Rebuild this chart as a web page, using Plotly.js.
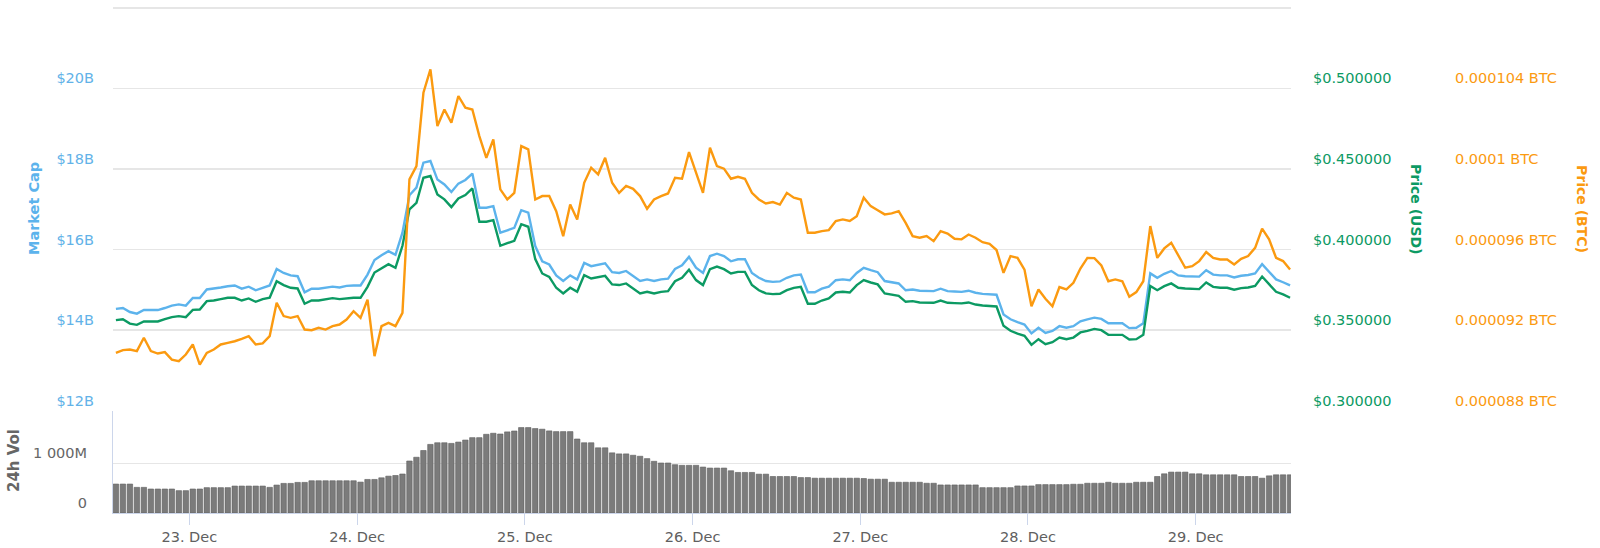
<!DOCTYPE html>
<html>
<head>
<meta charset="utf-8">
<script src="https://cdn.plot.ly/plotly-3.0.1.min.js"></script>
<style>
  html, body { margin: 0; padding: 0; background: #ffffff; }
  #chart { width: 1600px; height: 548px; }
</style>
</head>
<body>
<div id="chart"></div>
<script>
// ---- time axis: hourly samples from 22 Dec 2018 13:30 (UTC) ----
const startTime = Date.UTC(2018, 11, 22, 13, 30);
const stepMs = 3600000;

// ---- Market cap, billions of USD ----
const marketCapB = [
  14.53,14.55,14.45,14.41,14.50,14.50,14.50,14.55,14.61,14.64,
  14.61,14.80,14.80,15.01,15.03,15.06,15.09,15.11,15.03,15.08,
  14.99,15.06,15.11,15.52,15.42,15.36,15.34,14.94,15.03,15.03,
  15.06,15.08,15.06,15.10,15.11,15.11,15.38,15.74,15.86,15.96,
  15.87,16.42,17.35,17.54,18.16,18.20,17.74,17.62,17.43,17.64,
  17.73,17.89,17.04,17.04,17.08,16.42,16.48,16.54,16.98,16.92,
  16.09,15.71,15.63,15.36,15.22,15.36,15.26,15.67,15.59,15.63,
  15.66,15.44,15.42,15.47,15.34,15.22,15.26,15.22,15.26,15.28,
  15.52,15.61,15.82,15.55,15.42,15.84,15.90,15.84,15.71,15.76,
  15.76,15.42,15.30,15.22,15.20,15.21,15.30,15.36,15.38,14.94,
  14.94,15.03,15.08,15.24,15.26,15.24,15.42,15.55,15.49,15.44,
  15.22,15.19,15.16,14.99,15.01,14.98,14.97,14.97,15.03,14.97,
  14.96,14.95,14.98,14.93,14.90,14.89,14.88,14.39,14.27,14.20,
  14.14,13.92,14.06,13.93,13.98,14.10,14.06,14.10,14.22,14.27,
  14.31,14.28,14.17,14.17,14.17,14.05,14.06,14.17,15.41,15.30,
  15.40,15.47,15.36,15.34,15.33,15.33,15.49,15.38,15.36,15.36,
  15.31,15.35,15.37,15.41,15.64,15.44,15.26,15.19,15.11
];

// ---- Price, USD ----
const priceUsd = [
  0.3562,0.3568,0.3541,0.3533,0.3554,0.3554,0.3554,0.3568,0.3581,0.3587,
  0.3581,0.3626,0.3628,0.3680,0.3684,0.3693,0.3701,0.3701,0.3684,0.3697,
  0.3676,0.3693,0.3701,0.3804,0.3780,0.3763,0.3759,0.3664,0.3684,0.3684,
  0.3693,0.3699,0.3693,0.3699,0.3701,0.3701,0.3769,0.3858,0.3883,0.3910,
  0.3887,0.4024,0.4250,0.4291,0.4446,0.4457,0.4343,0.4312,0.4264,0.4318,
  0.4339,0.4380,0.4173,0.4173,0.4183,0.4024,0.4040,0.4055,0.4158,0.4142,
  0.3941,0.3852,0.3831,0.3763,0.3728,0.3763,0.3738,0.3842,0.3821,0.3831,
  0.3837,0.3784,0.3780,0.3790,0.3759,0.3728,0.3738,0.3728,0.3738,0.3742,
  0.3804,0.3825,0.3875,0.3811,0.3780,0.3879,0.3895,0.3879,0.3852,0.3862,
  0.3862,0.3780,0.3748,0.3728,0.3724,0.3726,0.3748,0.3763,0.3769,0.3664,
  0.3664,0.3684,0.3697,0.3734,0.3738,0.3734,0.3780,0.3811,0.3796,0.3784,
  0.3728,0.3722,0.3713,0.3676,0.3680,0.3672,0.3670,0.3670,0.3684,0.3670,
  0.3668,0.3666,0.3672,0.3659,0.3653,0.3649,0.3647,0.3527,0.3496,0.3479,
  0.3465,0.3409,0.3444,0.3413,0.3425,0.3454,0.3444,0.3454,0.3486,0.3496,
  0.3508,0.3500,0.3471,0.3471,0.3471,0.3442,0.3444,0.3471,0.3775,0.3748,
  0.3773,0.3790,0.3763,0.3759,0.3755,0.3755,0.3796,0.3769,0.3763,0.3763,
  0.3751,0.3761,0.3765,0.3775,0.3833,0.3784,0.3738,0.3722,0.3701
];

// ---- Price, BTC ----
const priceBtc = [
  90.87e-6,91.01e-6,91.04e-6,90.96e-6,91.62e-6,90.96e-6,90.84e-6,90.91e-6,90.54e-6,90.46e-6,
  90.79e-6,91.29e-6,90.29e-6,90.87e-6,91.04e-6,91.29e-6,91.37e-6,91.45e-6,91.57e-6,91.70e-6,
  91.29e-6,91.34e-6,91.70e-6,93.36e-6,92.70e-6,92.61e-6,92.70e-6,92.03e-6,92.00e-6,92.12e-6,
  92.03e-6,92.20e-6,92.28e-6,92.53e-6,92.94e-6,92.61e-6,93.52e-6,90.71e-6,92.20e-6,92.36e-6,
  92.20e-6,92.86e-6,99.49e-6,100.15e-6,103.79e-6,104.95e-6,102.14e-6,102.96e-6,102.30e-6,103.63e-6,
  103.05e-6,102.96e-6,101.64e-6,100.56e-6,101.47e-6,98.99e-6,98.49e-6,98.82e-6,101.14e-6,100.98e-6,
  98.49e-6,98.66e-6,98.66e-6,97.91e-6,96.67e-6,98.24e-6,97.50e-6,99.32e-6,100.07e-6,99.74e-6,
  100.56e-6,99.32e-6,98.82e-6,99.16e-6,99.02e-6,98.66e-6,98.03e-6,98.49e-6,98.66e-6,98.79e-6,
  99.57e-6,99.52e-6,100.84e-6,99.82e-6,98.82e-6,101.06e-6,100.15e-6,100.02e-6,99.52e-6,99.62e-6,
  99.52e-6,98.82e-6,98.49e-6,98.29e-6,98.36e-6,98.24e-6,98.82e-6,98.58e-6,98.49e-6,96.84e-6,
  96.84e-6,96.92e-6,96.97e-6,97.42e-6,97.50e-6,97.42e-6,97.66e-6,98.58e-6,98.16e-6,97.96e-6,
  97.75e-6,97.80e-6,97.91e-6,97.33e-6,96.67e-6,96.59e-6,96.67e-6,96.42e-6,96.92e-6,96.80e-6,
  96.54e-6,96.51e-6,96.75e-6,96.59e-6,96.37e-6,96.29e-6,95.98e-6,94.85e-6,95.68e-6,95.59e-6,
  95.01e-6,93.19e-6,94.02e-6,93.56e-6,93.19e-6,94.14e-6,94.02e-6,94.35e-6,95.06e-6,95.59e-6,
  95.58e-6,95.21e-6,94.43e-6,94.52e-6,94.43e-6,93.66e-6,93.89e-6,94.43e-6,97.17e-6,95.59e-6,
  96.06e-6,96.34e-6,95.68e-6,95.10e-6,95.18e-6,95.43e-6,95.88e-6,95.59e-6,95.51e-6,95.51e-6,
  95.26e-6,95.54e-6,95.68e-6,96.09e-6,97.04e-6,96.51e-6,95.59e-6,95.43e-6,95.01e-6
];

// ---- 24h volume, millions of USD ----
const volumeM = [
  579,579,579,513,513,480,480,480,480,447,
  447,480,480,507,507,507,507,539,539,539,
  539,539,513,559,592,592,612,612,645,645,
  645,645,645,645,645,618,671,671,704,737,
  750,780,1040,1115,1250,1372,1405,1405,1392,1419,
  1459,1507,1507,1574,1595,1580,1622,1640,1709,1709,
  1689,1676,1642,1628,1628,1628,1480,1405,1405,1304,
  1304,1203,1182,1182,1155,1135,1088,1034,1000,1000,
  966,953,953,953,919,899,899,899,845,811,
  811,811,777,777,730,730,730,730,709,709,
  696,696,696,696,696,696,696,690,676,676,
  676,615,615,615,615,615,595,595,561,561,
  561,561,561,561,507,507,507,507,507,541,
  541,541,568,568,568,568,568,575,575,595,
  595,595,615,595,595,595,615,615,615,730,
  784,818,818,818,784,784,764,764,764,764,
  764,730,730,730,696,743,764,764,764
];

// ---- tick labels ----
const capTickVals = [12, 14, 16, 18, 20, 22];
const capTickText = ['$12B', '$14B', '$16B', '$18B', '$20B', ''];
const usdTickVals = [0.30, 0.35, 0.40, 0.45, 0.50];
const usdTickText = ['$0.300000', '$0.350000', '$0.400000', '$0.450000', '$0.500000'];
const btcTickVals = [88e-6, 92e-6, 96e-6, 100e-6, 104e-6];
const btcTickText = ['0.000088 BTC', '0.000092 BTC', '0.000096 BTC', '0.0001 BTC', '0.000104 BTC'];
const volTickVals = [0, 1000];
const volTickText = ['0', '1 000M'];

const times = marketCapB.map((_, i) => startTime + i * stepMs);

const BLUE = '#5cb3ec';
const GREEN = '#0c9a63';
const ORANGE = '#fb9a10';
const FONT = 'DejaVu Sans, Verdana, sans-serif';

const W = 1600, H = 548;
const px = v => v / W;
const py = v => 1 - v / H;

const traces = [
  { type: 'scatter', mode: 'lines', x: times, y: marketCapB, yaxis: 'y', xaxis: 'x',
    line: { color: BLUE, width: 2.4 }, hoverinfo: 'skip' },
  { type: 'scatter', mode: 'lines', x: times, y: priceUsd, yaxis: 'y2', xaxis: 'x',
    line: { color: GREEN, width: 2.4 }, hoverinfo: 'skip' },
  { type: 'scatter', mode: 'lines', x: times, y: priceBtc, yaxis: 'y3', xaxis: 'x',
    line: { color: ORANGE, width: 2.4 }, hoverinfo: 'skip' },
  { type: 'bar', x: times, y: volumeM, yaxis: 'y4', xaxis: 'x',
    marker: { color: '#7b7b7b', line: { color: '#5e5e5e', width: 0.6 } }, hoverinfo: 'skip' }
];

const tickFont = (c) => ({ family: FONT, size: 14.5, color: c });

const layout = {
  width: W, height: H,
  margin: { l: 0, r: 0, t: 0, b: 0, pad: 0 },
  paper_bgcolor: '#ffffff', plot_bgcolor: '#ffffff',
  showlegend: false,
  bargap: 0.22,
  font: { family: FONT, size: 14.5, color: '#666666' },
  xaxis: {
    type: 'date', domain: [px(113), px(1291)], anchor: 'y4',
    range: [Date.UTC(2018, 11, 22, 13, 5), Date.UTC(2018, 11, 29, 13, 38)],
    tick0: Date.UTC(2018, 11, 23), dtick: 86400000, tickformat: '%d. %b',
    ticks: 'outside', ticklen: 11, tickwidth: 1, tickcolor: '#ccd6eb',
    showline: true, linecolor: '#ccd6eb', linewidth: 1,
    showgrid: false, zeroline: false, fixedrange: true,
    tickfont: tickFont('#606060')
  },
  yaxis: {
    domain: [py(410.7), py(6)], anchor: 'x', side: 'left',
    range: [12, 22.05], tickvals: capTickVals, ticktext: capTickText,
    ticks: '', ticklabelposition: 'outside top', ticklabelstandoff: 18,
    showgrid: true, gridcolor: '#e6e6e6', gridwidth: 1.5,
    zeroline: false, showline: false, fixedrange: true,
    tickfont: tickFont('#62b2e8')
  },
  yaxis2: {
    overlaying: 'y', anchor: 'x', side: 'right',
    range: [0.30, 0.55125], tickvals: usdTickVals, ticktext: usdTickText,
    ticks: '', ticklabelposition: 'outside top', ticklabelstandoff: 21,
    showgrid: false, zeroline: false, showline: false, fixedrange: true,
    tickfont: tickFont(GREEN)
  },
  yaxis3: {
    overlaying: 'y', anchor: 'free', position: px(1452), side: 'right',
    range: [88e-6, 108.1e-6], tickvals: btcTickVals, ticktext: btcTickText,
    ticks: '', ticklabelposition: 'outside top', ticklabelstandoff: 2,
    showgrid: false, zeroline: false, showline: false, fixedrange: true,
    tickfont: tickFont(ORANGE)
  },
  yaxis4: {
    domain: [py(513), py(411)], anchor: 'x', side: 'left',
    range: [0, 2040], tickvals: volTickVals, ticktext: volTickText,
    ticks: '', ticklabelposition: 'outside top', ticklabelstandoff: 22,
    showgrid: true, gridcolor: '#e6e6e6', gridwidth: 1,
    zeroline: false, showline: true, linecolor: '#ccd6eb', linewidth: 1, fixedrange: true,
    tickfont: tickFont('#666666')
  },
  annotations: [
    { text: '<b>Market Cap</b>', xref: 'paper', yref: 'paper', x: px(34), y: py(209),
      textangle: -90, showarrow: false, xanchor: 'center', yanchor: 'middle',
      font: { family: FONT, size: 14.5, color: BLUE } },
    { text: '<b>24h Vol</b>', xref: 'paper', yref: 'paper', x: px(14), y: py(461),
      textangle: -90, showarrow: false, xanchor: 'center', yanchor: 'middle',
      font: { family: FONT, size: 15, color: '#666666' } },
    { text: '<b>Price (USD)</b>', xref: 'paper', yref: 'paper', x: px(1416), y: py(209),
      textangle: 90, showarrow: false, xanchor: 'center', yanchor: 'middle',
      font: { family: FONT, size: 14, color: GREEN } },
    { text: '<b>Price (BTC)</b>', xref: 'paper', yref: 'paper', x: px(1582), y: py(209),
      textangle: 90, showarrow: false, xanchor: 'center', yanchor: 'middle',
      font: { family: FONT, size: 14, color: ORANGE } }
  ]
};

Plotly.newPlot('chart', traces, layout, { displayModeBar: false, staticPlot: true });
</script>
</body>
</html>
